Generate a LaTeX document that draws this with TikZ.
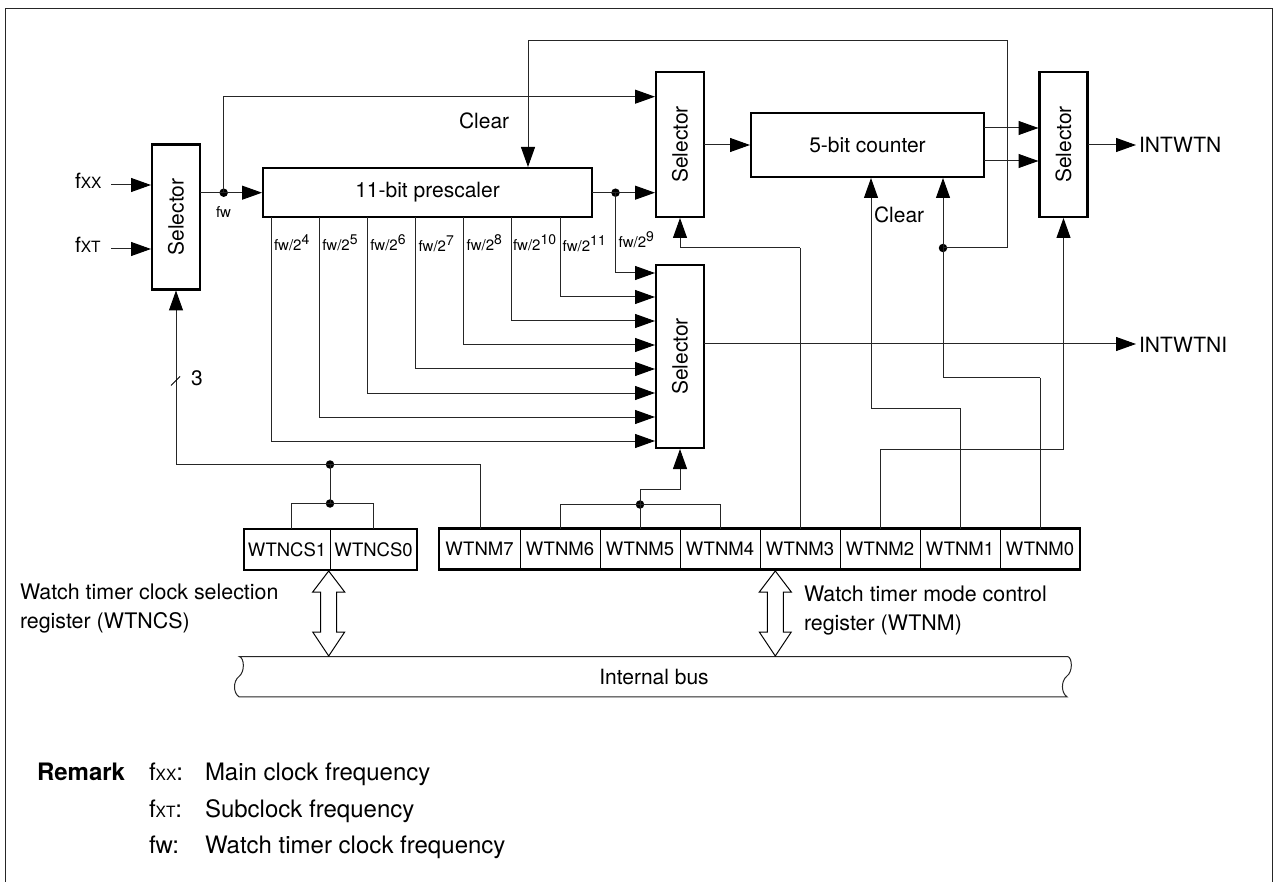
\documentclass[tikz,border=0pt]{standalone}
\usepackage{fontspec}
\setmainfont{TeX Gyre Heros}
\usetikzlibrary{arrows.meta}
\newcommand{\txtS}{\fontsize{21}{25}\selectfont}
\newcommand{\txtW}{\fontsize{21.4}{25}\selectfont}
\newcommand{\txtR}{\fontsize{18.5}{22}\selectfont}
\newcommand{\txtM}{\fontsize{24}{28}\selectfont}
\newcommand{\txtF}{\fontsize{15}{18}\selectfont}
\newcommand{\fxx}{f{\fontsize{15.5}{18}\selectfont XX}}
\newcommand{\fxt}{f{\fontsize{15.5}{18}\selectfont XT}}
\newcommand{\fwp}[1]{fw/2\raisebox{6.5pt}{\fontsize{14}{16}\selectfont #1}}
\tikzset{
  blockbox/.style={draw=black,line width=2.5pt,fill=white,outer sep=0pt,inner sep=0pt,font=\txtS,anchor=center},
  cell/.style={draw=black,line width=1pt,outer sep=0pt,inner sep=0pt,font=\txtR,minimum height=41pt,anchor=center},
  regframe/.style={draw=black,line width=2.5pt},
  wire/.style={draw=black!85,line width=1pt},
  arr/.style={wire,-{Triangle[length=20pt,width=14pt,color=black]},shorten >=1pt},
  junction/.style={circle,fill=black,inner sep=0pt,minimum size=8.5pt},
  lbl/.style={inner sep=0pt,outer sep=0pt,anchor=base west,font=\txtS},
  lblw/.style={inner sep=0pt,outer sep=0pt,anchor=base west,font=\txtW},
  lblf/.style={inner sep=0pt,outer sep=0pt,anchor=base west,font=\txtF},
  lblm/.style={inner sep=0pt,outer sep=0pt,anchor=base west,font=\txtM},
  bigarrow/.style={draw=black,line width=1pt,fill=white,line join=miter},
  busline/.style={draw=black!85,line width=1pt}
}
\begin{document}
\begin{tikzpicture}[x=1pt,y=-1pt]
\useasboundingbox (0,0) rectangle (1274,882);
\fill[white] (0,0) rectangle (1274,882);
% frame
\draw[line width=1.2pt,black!85] (5.5,882) -- (5.5,8.5) -- (1272.5,8.5) -- (1272.5,882);
% blocks
\node[blockbox,minimum width=48pt,minimum height=145pt] (selA) at (176,217) {\rotatebox{90}{Selector}};
\node[blockbox,minimum width=329pt,minimum height=49pt] (pre) at (427.5,192.5) {11-bit prescaler};
\node[blockbox,minimum width=48pt,minimum height=145pt] (selB) at (680,144.5) {\rotatebox{90}{Selector}};
\node[blockbox,minimum width=48pt,minimum height=183pt] (selC) at (680,356.5) {\rotatebox{90}{Selector}};
\node[blockbox,minimum width=233pt,minimum height=64pt] (cnt) at (867.5,145) {5-bit counter};
\node[blockbox,minimum width=48pt,minimum height=145pt] (selD) at (1063.5,144.5) {\rotatebox{90}{Selector}};
% registers
\node[cell,minimum width=86pt] (cs1) at (287,549.5) {WTNCS1};
\node[cell,minimum width=87pt] (cs0) at (373.5,549.5) {WTNCS0};
\draw[regframe] (cs1.north west) rectangle (cs0.south east);
\node[cell,minimum width=81pt] (m7) at (479.5,549) {WTNM7};
\node[cell,minimum width=80pt] (m6) at (560,549) {WTNM6};
\node[cell,minimum width=80pt] (m5) at (640,549) {WTNM5};
\node[cell,minimum width=80pt] (m4) at (720,549) {WTNM4};
\node[cell,minimum width=80pt] (m3) at (800,549) {WTNM3};
\node[cell,minimum width=80pt] (m2) at (880,549) {WTNM2};
\node[cell,minimum width=80pt] (m1) at (960,549) {WTNM1};
\node[cell,minimum width=80pt] (m0) at (1040,549) {WTNM0};
\draw[regframe] (m7.north west) rectangle (m0.south east);
% labels
\node[lbl] (lfxx) at (75,189) {\fxx};
\node[lbl] (lfxt) at (75,253) {\fxt};
\node[lblf,anchor=base] (lfw) at (223.5,218) {fw};
\node[lbl] (lclA) at (459,129) {Clear};
\node[lbl] (lclB) at (874,223) {Clear};
\node[lbl] (lout1) at (1139,153) {INTWTN};
\node[lbl] (lout2) at (1139,353) {INTWTNI};
\node[lbl] (lthree) at (191,385.5) {3};
\node[lblf] (p4) at (274,251) {\fwp{4}};
\node[lblf] (p5) at (322.3,251) {\fwp{5}};
\node[lblf] (p6) at (370.3,251) {\fwp{6}};
\node[lblf] (p7) at (418.5,252) {\fwp{7}};
\node[lblf] (p8) at (466.7,251) {\fwp{8}};
\node[lblf] (p10) at (513,251) {\fwp{10}};
\node[lblf] (p11) at (562.7,252) {\fwp{11}};
\node[lblf] (p9) at (618.7,248) {\fwp{9}};
\node[lblw] (lcsA) at (20,599) {Watch timer clock selection};
\node[lblw] (lcsB) at (20,628) {register (WTNCS)};
\node[lblw] (lnmA) at (804,601) {Watch timer mode control};
\node[lblw] (lnmB) at (804,630) {register (WTNM)};
\node[lblm,font=\txtM\bfseries] (rem) at (37,780) {Remark};
\node[lblm] (r1a) at (149,780) {\fxx:};
\node[lblm] (r1b) at (205,780) {Main clock frequency};
\node[lblm] (r2a) at (149,817) {\fxt:};
\node[lblm] (r2b) at (205,817) {Subclock frequency};
\node[lblm] (r3a) at (149,853) {fw:};
\node[lblm] (r3b) at (205,853) {Watch timer clock frequency};
% bus
\draw[busline] (239.3,656.5) -- (1067.7,656.5)
  .. controls (1072.5,658) and (1073,672) .. (1066.5,676.5)
  .. controls (1061,681) and (1061,693) .. (1067,696.8)
  -- (239,696.8)
  .. controls (233,693) and (233,681) .. (239,676.5)
  .. controls (245,672) and (244.5,658) .. (239.3,656.5) -- cycle;
\node[inner sep=0pt,font=\txtS] (bus) at (654,677) {Internal bus};
% bus arrows
\foreach \ax in {328.7,775.3}{
  \draw[bigarrow,shift={(\ax,0)}] (0,571) -- (16,592) -- (8,592) -- (8,632) -- (16,632) -- (0,656) -- (-16,632) -- (-8,632) -- (-8,592) -- (-16,592) -- cycle;
}
% named end points
\coordinate (fxxs) at (111,185); \coordinate (fxxe) at (152,185);
\coordinate (fxts) at (111,249); \coordinate (fxte) at (152,249);
\coordinate (selAout) at (200,192.7);
\coordinate (preIn) at (263,192.7);
\coordinate (preOut) at (592,192.7);
\coordinate (selBtop) at (656,96.7);
\coordinate (selBbot) at (656,192.7);
\node[junction] (jfw) at (223.7,192.7) {};
\node[junction] (jpre) at (615.5,192.7) {};
% inputs to first selector and prescaler
\draw[arr] (fxxs) -- (fxxe);
\draw[arr] (fxts) -- (fxte);
\draw[arr] (selAout) -- (preIn);
\draw[arr] (jfw.center) |- (selBtop);
\draw[arr] (preOut) -- (selBbot);
% tap lines to selector C
\foreach \n/\px/\py in {a/615.5/273,b/560/297,c/511.7/321,d/463.5/345,e/415.6/369,f/367.7/393,g/319.7/417,h/271.7/441}{
  \coordinate (t\n) at (\px,217);
  \coordinate (i\n) at (656,\py);
}
\draw[arr] (jpre.center) |- (ia);
\draw[arr] (tb) |- (ib);
\draw[arr] (tc) |- (ic);
\draw[arr] (td) |- (id);
\draw[arr] (te) |- (ie);
\draw[arr] (tf) |- (if);
\draw[arr] (tg) |- (ig);
\draw[arr] (th) |- (ih);
% counter and outputs
\coordinate (selBout) at (704,145); \coordinate (cntIn) at (751,145);
\draw[arr] (selBout) -- (cntIn);
\coordinate (cu) at (984,128); \coordinate (du) at (1039.5,128);
\coordinate (cl) at (984,161); \coordinate (dl) at (1039.5,161);
\draw[arr] (cu) -- (du);
\draw[arr] (cl) -- (dl);
\coordinate (selDout) at (1088,145); \coordinate (outA) at (1136,145);
\draw[arr,shorten >=0pt] (selDout) -- (outA);
\coordinate (selCout) at (704,344); \coordinate (outB) at (1136,344);
\draw[arr,shorten >=0pt] (selCout) -- (outB);
% selector A control
\node[junction] (jtop) at (330,464.5) {};
\node[junction] (jcs) at (330,503.5) {};
\coordinate (selActl) at (176,289.5);
\coordinate (w7) at (480,529);
\draw[wire] (jtop.center) -- (jcs.center);
\draw[wire] (w7) |- (jtop.center);
\draw[arr] (jtop.center) -| (selActl);
\coordinate (wcs1) at (291,529); \coordinate (wcs0) at (373.3,529);
\draw[wire] (wcs1) |- (jcs.center);
\draw[wire] (wcs0) |- (jcs.center);
\coordinate (slashA) at (171,385.5); \coordinate (slashB) at (180,376.5);
\draw[line width=.8pt] (slashA) -- (slashB);
% selector C control
\node[junction] (jm) at (640,504.5) {};
\draw[wire] (m5.north) -- (jm.center);
\draw[wire] (m6.north) |- (jm.center);
\draw[wire] (m4.north) |- (jm.center);
\coordinate (bendC) at (640,489);
\draw[wire] (jm.center) -- (bendC);
\draw[arr] (bendC) -| (selC.south);
% selector B control from WTNM3
\coordinate (b3) at (800,248);
\draw[wire] (m3.north) -- (b3);
\draw[arr] (b3) -| (selB.south);
% WTNM2 to selector D
\coordinate (b2) at (880,449);
\draw[wire] (m2.north) -- (b2);
\draw[arr] (b2) -| (selD.south);
% WTNM1 to counter
\coordinate (b1) at (960,408);
\coordinate (cntC1) at (871,177);
\draw[wire] (m1.north) -- (b1);
\draw[arr] (b1) -| (cntC1);
% WTNM0 to counter and prescaler clear
\coordinate (b0) at (1040,378);
\coordinate (cntC2) at (943,177);
\coordinate (preC) at (528,168);
\node[junction] (jclr) at (943,248) {};
\draw[wire] (m0.north) -- (b0);
\draw[arr] (b0) -| (cntC2);
\coordinate (rt) at (1007.5,248);
\coordinate (rtop) at (1007.5,41);
\draw[wire] (jclr.center) -- (rt) -- (rtop);
\draw[arr] (rtop) -| (preC);
\end{tikzpicture}
\end{document}
